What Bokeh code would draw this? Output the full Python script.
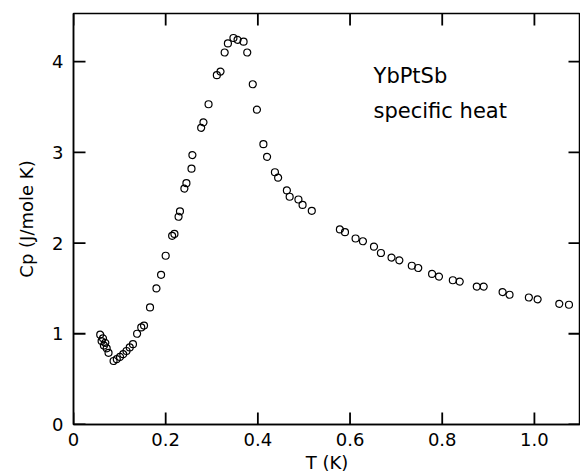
import math
from bokeh.plotting import figure
from bokeh.models import FixedTicker, PrintfTickFormatter, Range1d, Label
from bokeh.embed import file_html
from bokeh.resources import INLINE

# Data (T in K, Cp in J/mole K)
T = [0.058, 0.064, 0.061, 0.069, 0.066, 0.072, 0.076,
     0.087, 0.094, 0.101, 0.108, 0.115, 0.122, 0.129, 0.138, 0.147, 0.153,
     0.166, 0.180, 0.190, 0.200, 0.214, 0.219, 0.228, 0.231, 0.2406, 0.245,
     0.256, 0.258, 0.277, 0.282, 0.293, 0.311, 0.319, 0.328, 0.335, 0.347,
     0.356, 0.369, 0.377, 0.389, 0.398, 0.412, 0.420, 0.437, 0.444, 0.463,
     0.469, 0.488, 0.497, 0.517, 0.578, 0.589, 0.612, 0.628, 0.652, 0.667,
     0.690, 0.707, 0.734, 0.748, 0.778, 0.793, 0.823, 0.838, 0.875, 0.890,
     0.931, 0.946, 0.988, 1.007, 1.054, 1.075]
Cp = [0.99, 0.95, 0.92, 0.90, 0.87, 0.84, 0.79,
      0.70, 0.72, 0.745, 0.775, 0.81, 0.85, 0.885, 1.00, 1.07, 1.09,
      1.29, 1.50, 1.65, 1.86, 2.08, 2.10, 2.29, 2.35, 2.60, 2.66,
      2.82, 2.97, 3.27, 3.33, 3.53, 3.85, 3.89, 4.10, 4.20, 4.26,
      4.24, 4.22, 4.10, 3.75, 3.47, 3.09, 2.95, 2.78, 2.72, 2.58,
      2.51, 2.48, 2.42, 2.355, 2.15, 2.12, 2.05, 2.02, 1.96, 1.89,
      1.84, 1.81, 1.75, 1.725, 1.66, 1.63, 1.59, 1.575, 1.52, 1.52,
      1.46, 1.43, 1.40, 1.38, 1.33, 1.32]

x_ticks = [0, 0.2, 0.4, 0.6, 0.8, 1.0]
y_ticks = [0, 1, 2, 3, 4]
x_label = "T (K)"
y_label = "Cp (J/mole K)"
title_lines = ["YbPtSb", "specific heat"]

X_MAX = 1.1
Y_MAX = 4.53
FONT = "DejaVu Sans"

W, H = 580, 475
B_LEFT, B_RIGHT, B_TOP, B_BOTTOM = 73, 0, 13, 51
FRAME_W = W - B_LEFT - B_RIGHT
FRAME_H = H - B_TOP - B_BOTTOM

p = figure(width=W, height=H, output_backend="svg", toolbar_location=None,
           x_range=Range1d(0, X_MAX), y_range=Range1d(0, Y_MAX),
           min_border_left=B_LEFT, min_border_right=B_RIGHT,
           min_border_top=B_TOP, min_border_bottom=10)
p.grid.visible = False
p.outline_line_color = "black"
p.outline_line_width = 1.5
p.background_fill_color = "white"
p.border_fill_color = "white"

def style_axis(ax):
    ax.major_tick_in = 0
    ax.major_tick_out = 0
    ax.minor_tick_line_color = None
    ax.axis_line_color = "black"
    ax.axis_line_width = 1.5
    ax.major_label_text_font = FONT
    ax.major_label_text_font_size = "18px"
    ax.major_label_text_color = "black"
    ax.axis_label_text_font = FONT
    ax.axis_label_text_font_size = "18px"
    ax.axis_label_text_font_style = "normal"
    ax.axis_label_text_color = "black"

xa = p.xaxis[0]
xa.ticker = FixedTicker(ticks=x_ticks)
xa.formatter = PrintfTickFormatter(format="%.1f")
xa.major_label_overrides = {0: "0"}
xa.axis_label = x_label
style_axis(xa)
xa.major_label_standoff = 8
xa.axis_label_standoff = 3

ya = p.yaxis[0]
ya.ticker = FixedTicker(ticks=y_ticks)
ya.axis_label = y_label
style_axis(ya)
ya.major_label_standoff = 10
ya.axis_label_standoff = 12

# inward tick marks (12 px long) on all four sides, drawn as dash markers
TICK_PX = 12
hx = 0.5 * TICK_PX * X_MAX / FRAME_W
hy = 0.5 * TICK_PX * Y_MAX / FRAME_H
nx, ny = len(x_ticks), len(y_ticks)
tick_kw = dict(marker="dash", size=TICK_PX, line_color="black", line_width=1.8)
p.scatter(x=x_ticks, y=[hy] * nx, angle=math.pi / 2, **tick_kw)
p.scatter(x=x_ticks, y=[Y_MAX - hy] * nx, angle=math.pi / 2, **tick_kw)
p.scatter(x=[hx] * ny, y=y_ticks, angle=0, **tick_kw)
p.scatter(x=[X_MAX - hx] * ny, y=y_ticks, angle=0, **tick_kw)

p.scatter(T, Cp, marker="circle", size=7, fill_color=None,
          line_color="black", line_width=1.2)

p.add_layout(Label(x=0.651, y=3.84, text=title_lines[0], text_font=FONT,
                   text_font_size="21px", text_baseline="middle", text_color="black"))
p.add_layout(Label(x=0.651, y=3.457, text=title_lines[1], text_font=FONT,
                   text_font_size="21px", text_baseline="middle", text_color="black"))

open("out.html", "w").write(file_html(p, INLINE))
